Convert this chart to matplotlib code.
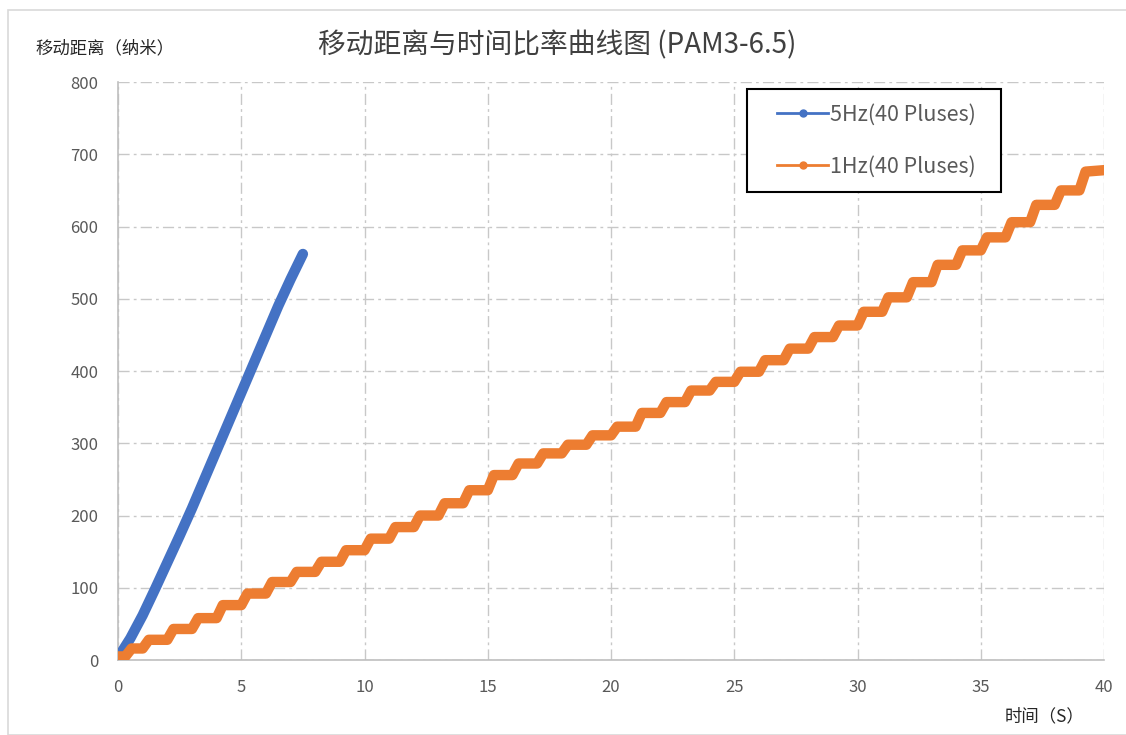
import matplotlib
matplotlib.use('Agg')
import matplotlib.pyplot as plt
from matplotlib.lines import Line2D
from matplotlib.patches import Rectangle

plt.rcParams['font.family'] = ['Noto Sans CJK SC', 'DejaVu Sans']

# 5Hz series (every 0.5 s)
t_5hz = [0, 0.5, 1.0, 1.5, 2.0, 2.5, 3.0, 3.5, 4.0, 4.5, 5.0, 5.5, 6.0, 6.5, 7.0, 7.5]
d_5hz = [3, 30, 62, 98, 135, 172, 210, 250, 290, 330, 370, 410, 450, 490, 527, 562]

# 1Hz series: time each step starts and the plateau level after it
step_t = [0, 0.3] + list(range(1, 40))
step_d = [5, 16, 28, 43, 58, 76, 92, 108, 122, 136, 152,
          168, 184, 200, 217, 235, 256, 272, 286, 298, 311,
          323, 342, 357, 373, 385, 399, 415, 431, 447, 463,
          482, 502, 523, 547, 567, 585, 606, 630, 650, 676]
t_end, d_end = 40, 678

labels = ['5Hz(40 Pluses)', '1Hz(40 Pluses)']
colors = ['#4472C4', '#ED7D31']
x_ticks = [0, 5, 10, 15, 20, 25, 30, 35, 40]
y_ticks = [0, 100, 200, 300, 400, 500, 600, 700, 800]

# staircase points: each riser takes a short time, then the plateau holds
rise = 0.25
xs, ys = [step_t[0]], [step_d[0]]
for i in range(1, len(step_t)):
    xs.append(step_t[i])
    ys.append(step_d[i - 1])
    xs.append(step_t[i] + min(rise, step_t[i] - step_t[i - 1]))
    ys.append(step_d[i])
xs.append(t_end)
ys.append(d_end)

fig = plt.figure(figsize=(11.26, 7.35), dpi=100)
fig.patches.append(Rectangle((8 / 1126, 0), 1.2, 1 - 10 / 735, transform=fig.transFigure,
                             fill=False, edgecolor='#D9D9D9', lw=1.2))
ax = fig.add_axes([0.1048, 0.1020, 0.8757, 0.7864])

ax.plot(t_5hz, d_5hz, color=colors[0], lw=7.5, solid_capstyle='round', solid_joinstyle='round', zorder=3)
ax.plot(xs, ys, color=colors[1], lw=7.5, solid_capstyle='round', solid_joinstyle='round', zorder=3)

ax.set_xlim(0, 40)
ax.set_ylim(0, 800)
ax.set_xticks(x_ticks)
ax.set_yticks(y_ticks)
ax.tick_params(length=0, labelsize=12, labelcolor='#595959')
ax.tick_params(axis='y', pad=14)
ax.tick_params(axis='x', pad=14)

ax.grid(True, color='#C8C8C8', lw=1, linestyle=(0, (8, 3, 2, 3)))
ax.set_axisbelow(True)
for s in ['top', 'right']:
    ax.spines[s].set_visible(False)
for s in ['left', 'bottom']:
    ax.spines[s].set_color('#BFBFBF')
    ax.spines[s].set_linewidth(1.2)

fig.text(557 / 1126, 1 - 45 / 735, '移动距离与时间比率曲线图 (PAM3-6.5)', ha='center', va='center',
         fontsize=20, color='#404040')
fig.text(35 / 1126, 1 - 48 / 735, '移动距离（纳米）', ha='left', va='center', fontsize=12.5, color='#262626')
fig.text(1045 / 1126, 1 - 716 / 735, '时间（S）', ha='center', va='center', fontsize=12.5, color='#262626')

# legend box drawn separately so its padding can match
ax.add_patch(Rectangle((0.638, 0.8097), 0.2575, 0.1782, transform=ax.transAxes, fill=False,
                       edgecolor='black', lw=1.5, zorder=5))
ax.add_patch(Rectangle((0.638, 0.8097), 0.2575, 0.1782, transform=ax.transAxes,
                       facecolor='white', edgecolor='none', zorder=4))
handles = [Line2D([], [], color=c, lw=2, marker='o', markersize=5) for c in colors]
leg = ax.legend(handles, labels, loc='center left', bbox_to_anchor=(0.668, 0.8988),
                fontsize=15.5, frameon=False, handlelength=2.4, handletextpad=0.1,
                labelspacing=1.4, borderpad=0, borderaxespad=0, labelcolor='#595959')
leg.set_zorder(6)

fig.savefig('out.png', dpi=100)
